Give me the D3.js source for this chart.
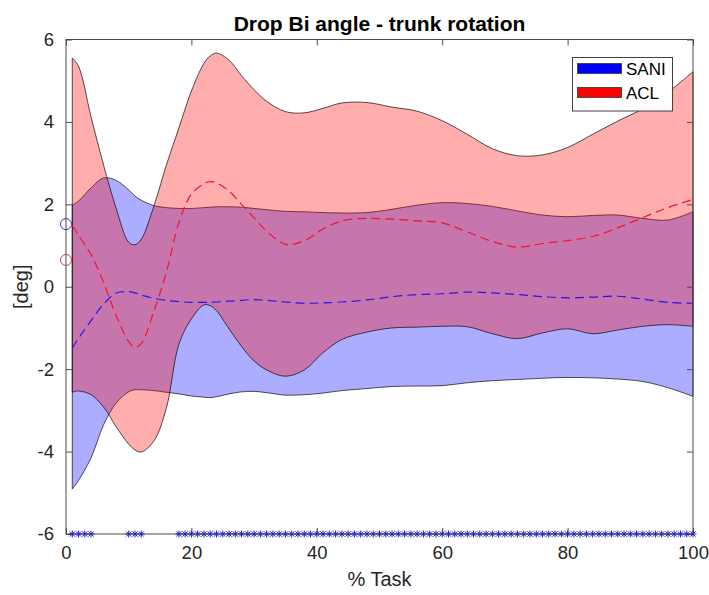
<!DOCTYPE html>
<html>
<head>
<meta charset="utf-8">
<script src="https://cdn.jsdelivr.net/npm/d3@7"></script>
<style>
  html, body { margin: 0; padding: 0; background: #fff; }
  svg { display: block; }
  text { font-family: "Liberation Sans", Arial, sans-serif; }
</style>
</head>
<body>
<svg id="chart" width="709" height="595"></svg>
<script>
// % of task at which each curve is sampled
const taskPct = [1,2,4,6,8,10,11,12,14,16,18,20,22,23,24,26,28,30,32,35,38,41,44,48,52,56,60,64,68,72,76,80,84,88,92,96,100];

// SANI group: mean and band limits [deg]
const saniUpper = [1.98,2.08,2.4,2.64,2.58,2.35,2.2,2.1,1.97,1.92,1.9,1.9,1.92,1.93,1.94,1.94,1.93,1.9,1.87,1.83,1.82,1.8,1.79,1.8,1.88,1.98,2.04,2.02,1.95,1.84,1.74,1.7,1.73,1.74,1.66,1.62,1.82];
const saniLower = [-4.91,-4.7,-4.15,-3.35,-2.82,-2.55,-2.5,-2.5,-2.52,-2.56,-2.6,-2.65,-2.68,-2.69,-2.67,-2.6,-2.55,-2.54,-2.57,-2.63,-2.62,-2.58,-2.52,-2.47,-2.42,-2.41,-2.4,-2.33,-2.28,-2.25,-2.22,-2.2,-2.21,-2.24,-2.3,-2.45,-2.66];
const saniMean  = [-1.49,-1.25,-0.82,-0.42,-0.15,-0.12,-0.15,-0.2,-0.28,-0.33,-0.36,-0.38,-0.38,-0.38,-0.37,-0.35,-0.33,-0.31,-0.33,-0.37,-0.4,-0.39,-0.37,-0.32,-0.24,-0.19,-0.17,-0.13,-0.15,-0.19,-0.24,-0.27,-0.25,-0.23,-0.3,-0.38,-0.4];

// ACL group: mean and band limits [deg]
const aclUpper = [5.55,5.35,4.12,2.95,1.9,1.08,1.02,1.15,1.95,2.95,3.85,4.75,5.42,5.6,5.67,5.5,5.12,4.78,4.5,4.25,4.22,4.33,4.46,4.47,4.36,4.26,4.03,3.7,3.35,3.18,3.2,3.38,3.7,4.02,4.32,4.72,5.22];
const aclLower = [-2.56,-2.53,-2.62,-2.92,-3.4,-3.82,-3.96,-4.01,-3.75,-2.95,-1.4,-0.78,-0.44,-0.46,-0.58,-1.02,-1.45,-1.8,-2.02,-2.17,-2.02,-1.6,-1.28,-1.1,-1.0,-0.98,-0.96,-0.97,-1.14,-1.26,-1.12,-1.02,-1.14,-1.05,-0.96,-0.92,-0.96];
const aclMean  = [1.48,1.25,0.78,0.1,-0.7,-1.33,-1.47,-1.38,-0.6,0.35,1.55,2.25,2.5,2.55,2.52,2.32,2.0,1.67,1.35,1.03,1.12,1.4,1.6,1.66,1.64,1.6,1.55,1.33,1.1,0.96,1.05,1.12,1.22,1.43,1.68,1.92,2.12];

// Reference values at task start
const startValues = [{group: "SANI", value: 1.52}, {group: "ACL", value: 0.65}];

// Points of significant difference between groups (% task)
const sigPct = [1,2,3,4,10,11,12,18,19,20,21,22,23,24,25,26,27,28,29,30,31,32,33,34,35,36,37,38,39,40,41,42,43,44,45,46,47,48,49,50,51,52,53,54,55,56,57,58,59,60,61,62,63,64,65,66,67,68,69,70,71,72,73,74,75,76,77,78,79,80,81,82,83,84,85,86,87,88,89,90,91,92,93,94,95,96,97,98,99,100];

const xTicks = [0,20,40,60,80,100];
const yTicks = [-6,-4,-2,0,2,4,6];
const legendItems = [{label: "SANI", color: "#0000ff"}, {label: "ACL", color: "#ff0000"}];

const svg = d3.select("#chart");
const padL = 66, padR = 693, padT = 39.5, padB = 534;

const x = d3.scaleLinear().domain([0, 100]).range([padL, padR]);
const y = d3.scaleLinear().domain([-6, 6]).range([padB, padT]);

function band(upper, lower) {
  return taskPct.map((t, i) => ({t, hi: upper[i], lo: lower[i]}));
}
function series(vals) {
  return taskPct.map((t, i) => ({t, v: vals[i]}));
}

const curve = d3.curveCatmullRom.alpha(0.5);
const area = d3.area().x(d => x(d.t)).y0(d => y(d.lo)).y1(d => y(d.hi)).curve(curve);
const line = d3.line().x(d => x(d.t)).y(d => y(d.v)).curve(curve);

const plot = svg.append("g");

// Shaded bands, SANI first, ACL over it
function drawBand(upper, lower, color) {
  const d = band(upper, lower);
  plot.append("path")
    .attr("d", area(d))
    .attr("fill", color)
    .attr("fill-opacity", 0.32)
    .attr("stroke", "#000")
    .attr("stroke-opacity", 0.75)
    .attr("stroke-width", 0.9)
    .attr("stroke-linejoin", "round");
}
drawBand(saniUpper, saniLower, "#0000ff");
drawBand(aclUpper, aclLower, "#ff0000");

// Mean curves
plot.append("path").attr("d", line(series(saniMean)))
  .attr("fill", "none").attr("stroke", "#2a14e6").attr("stroke-width", 1.2)
  .attr("stroke-dasharray", "9,5");
plot.append("path").attr("d", line(series(aclMean)))
  .attr("fill", "none").attr("stroke", "#ee1530").attr("stroke-width", 1.2)
  .attr("stroke-dasharray", "9,5");

// Axes box
const axisColor = "#4d4d4d";
svg.append("rect")
  .attr("x", padL).attr("y", padT)
  .attr("width", padR - padL).attr("height", padB - padT)
  .attr("fill", "none").attr("stroke", axisColor).attr("stroke-width", 1);

const tickLen = 6;
const fmt = d => String(d);
const axB = svg.append("g").attr("transform", `translate(0,${padB})`)
  .call(d3.axisBottom(x).tickValues(xTicks).tickSize(-tickLen).tickPadding(12).tickFormat(fmt));
const axT = svg.append("g").attr("transform", `translate(0,${padT})`)
  .call(d3.axisTop(x).tickValues(xTicks).tickSize(-tickLen).tickFormat(""));
const axL = svg.append("g").attr("transform", `translate(${padL},0)`)
  .call(d3.axisLeft(y).tickValues(yTicks).tickSize(-tickLen).tickPadding(12).tickFormat(fmt));
const axR = svg.append("g").attr("transform", `translate(${padR},0)`)
  .call(d3.axisRight(y).tickValues(yTicks).tickSize(-tickLen).tickFormat(""));

[axB, axT, axL, axR].forEach(g => {
  g.select(".domain").remove();
  g.selectAll(".tick line").attr("stroke", axisColor);
  g.selectAll(".tick text")
    .attr("fill", "#262626")
    .style("font-size", "18.5px")
    .style("font-family", "'Liberation Sans', Arial, sans-serif");
});

// Significance markers (asterisks) along the bottom
const star = "M-3.5,0H3.5M0,-3.5V3.5M-2.6,-2.6L2.6,2.6M-2.6,2.6L2.6,-2.6";
svg.append("g").selectAll("path").data(sigPct).join("path")
  .attr("transform", d => `translate(${x(d)},${y(-6)})`)
  .attr("d", star)
  .attr("fill", "none")
  .attr("stroke", "#2323b4")
  .attr("stroke-width", 1);

// Start-value circles at x = 0
svg.append("g").selectAll("circle").data(startValues).join("circle")
  .attr("cx", x(0)).attr("cy", d => y(d.value)).attr("r", 5.5)
  .attr("fill", "none")
  .attr("stroke", d => d.group === "SANI" ? "#3a3ab8" : "#b84a4a")
  .attr("stroke-width", 1);

// Title and axis labels
svg.append("text")
  .attr("x", (padL + padR) / 2).attr("y", 31)
  .attr("text-anchor", "middle")
  .style("font-size", "21px").style("font-weight", "bold")
  .attr("fill", "#000")
  .text("Drop Bi angle - trunk rotation");

svg.append("text")
  .attr("x", (padL + padR) / 2).attr("y", 586)
  .attr("text-anchor", "middle")
  .style("font-size", "20px")
  .attr("fill", "#262626")
  .text("% Task");

svg.append("text")
  .attr("transform", `translate(28,${(padT + padB) / 2}) rotate(-90)`)
  .attr("text-anchor", "middle")
  .style("font-size", "20px")
  .attr("fill", "#262626")
  .text("[deg]");

// Legend
const lg = svg.append("g").attr("transform", "translate(572.5,57.5)");
lg.append("rect").attr("width", 100).attr("height", 53.5)
  .attr("fill", "#fff").attr("stroke", "#404040").attr("stroke-width", 1);
legendItems.forEach((it, i) => {
  lg.append("rect")
    .attr("x", 5).attr("y", 6 + i * 24).attr("width", 44).attr("height", 10)
    .attr("fill", it.color).attr("stroke", "#333").attr("stroke-width", 0.8);
  lg.append("text")
    .attr("x", 53.5).attr("y", 17.5 + i * 24)
    .style("font-size", "17px").attr("fill", "#000")
    .text(it.label);
});
</script>
</body>
</html>
